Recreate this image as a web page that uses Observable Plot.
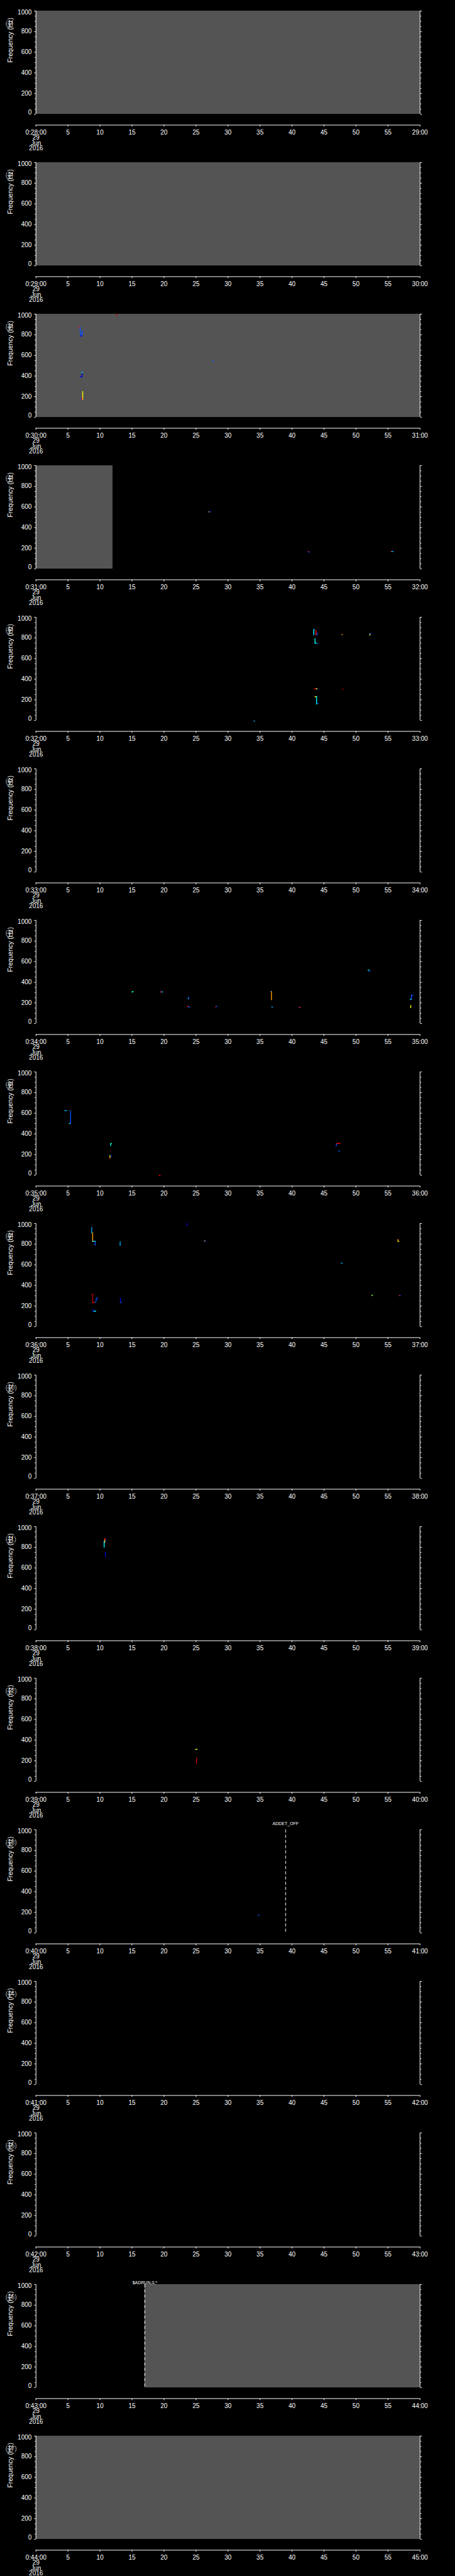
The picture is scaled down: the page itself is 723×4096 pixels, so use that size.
<!DOCTYPE html>
<html>
<head>
<meta charset="utf-8">
<script src="https://cdn.jsdelivr.net/npm/d3@7"></script>
<script src="https://cdn.jsdelivr.net/npm/@observablehq/plot@0.6"></script>
<style>
  html, body { margin: 0; padding: 0; background: #000; }
  #chart { position: relative; width: 723px; height: 4096px; background: #000; overflow: hidden; }
  #chart svg { position: absolute; left: 0; display: block; }
</style>
</head>
<body>
<div id="chart"></div>
<script>
// ---------------- DATA ----------------
// start minute (hour 0) of each one-minute panel
const panelStartMinute = [28, 29, 30, 31, 32, 33, 34, 35, 36, 37, 38, 39, 40, 41, 42, 43, 44];
const dateLines = ["29", "Jun", "2016"];
const timeDomain = [0, 60];                // seconds within the minute
const freqDomain = [0, 1000];              // Hz
const timeTicks = [0, 5, 10, 15, 20, 25, 30, 35, 40, 45, 50, 55, 60];
const freqMajorTicks = [0, 200, 400, 600, 800, 1000];
const freqMinorTicks = [50, 100, 150, 250, 300, 350, 450, 500, 550, 650, 700, 750, 850, 900, 950];

// intensity levels of the spectrogram and their colours
const levels = [1, 2, 3, 4, 5, 6, 7, 8, 9];
const palette = ["#0000d8", "#0050ff", "#00a8ff", "#00ffff", "#00ff70", "#ffff00", "#ffa000", "#ff0000", "#b40000"];

// grey "no data" bands: panel number, start second, end second
const shadePanel = [1, 2, 3, 4, 16, 17];
const shadeStart = [0, 0, 0, 0, 17, 0];
const shadeEnd   = [60, 60, 60, 12, 60, 60];

// event markers: panel, second, label
const eventPanel = [13, 16];
const eventTime  = [39.0, 17.0];
const eventLabel = ["ADDET_OFF", "$ADRUN,0,*"];

// spectrogram traces per panel: [t1 (s), f1 (Hz), t2 (s), f2 (Hz), level]
const signals3 = [
  [12.6, 985, 12.7, 1000, 9],
  [6.67, 871, 6.72, 871, 8],
  [6.9, 871, 6.95, 788, 2],
  [7.2, 790, 7.2, 830, 2], [7.2, 830, 7.35, 830, 2], [6.95, 788, 7.2, 790, 1],
  [27.6, 546, 27.7, 546, 2],
  [7.2, 391, 7.2, 434, 1], [7.15, 434, 7.25, 434, 4], [6.9, 394, 7.2, 394, 1],
  [7.3, 172, 7.3, 249, 6], [6.9, 180, 7.05, 180, 2], [7.1, 180, 7.25, 180, 8]
];
const signals4 = [
  [27.0, 553, 27.05, 553, 7], [27.1, 553, 27.25, 553, 2],
  [42.55, 170, 42.6, 170, 8], [42.6, 165, 42.7, 163, 2],
  [55.5, 169, 55.6, 169, 8], [55.6, 169, 55.8, 169, 3]
];
const signals5 = [
  [43.4, 830, 43.4, 881, 4], [43.4, 881, 43.5, 881, 3],
  [43.75, 830, 43.75, 873, 8], [43.9, 830, 43.95, 845, 2],
  [47.8, 833, 47.85, 833, 7],
  [52.15, 826, 52.2, 840, 6], [52.2, 840, 52.35, 840, 2],
  [43.6, 749, 43.6, 792, 4], [43.6, 749, 43.8, 749, 4], [44.0, 744, 44.05, 744, 2],
  [43.55, 307, 43.75, 307, 8], [43.8, 307, 43.9, 307, 6], [43.95, 302, 44.0, 302, 2],
  [47.9, 303, 47.95, 303, 8],
  [43.6, 231, 43.8, 231, 6], [43.85, 159, 43.85, 231, 4], [44.05, 165, 44.1, 165, 2],
  [34.05, -6, 34.15, -6, 3]
];
const signals7 = [
  [15.0, 307, 15.1, 307, 5], [15.1, 310, 15.15, 310, 4],
  [19.4, 307, 19.55, 307, 8], [19.6, 307, 19.8, 307, 3],
  [23.8, 240, 23.8, 250, 3], [23.85, 250, 23.9, 250, 2],
  [23.65, 166, 23.8, 166, 8], [23.85, 160, 24.0, 160, 2],
  [28.05, 163, 28.15, 166, 8], [28.15, 166, 28.25, 166, 2],
  [36.65, 311, 36.75, 311, 2], [36.8, 232, 36.8, 311, 7],
  [36.85, 160, 36.95, 160, 3],
  [41.1, 158, 41.2, 158, 2], [41.2, 158, 41.3, 158, 8],
  [51.9, 519, 52.0, 519, 5], [52.0, 511, 52.2, 511, 2],
  [58.65, 236, 58.65, 274, 2], [58.65, 274, 58.9, 274, 2], [58.5, 236, 58.6, 236, 4],
  [58.55, 155, 58.55, 175, 6]
];
const signals8 = [
  [4.5, 626, 4.8, 626, 3], [5.4, 500, 5.4, 626, 2], [5.2, 500, 5.3, 500, 4],
  [11.65, 287, 11.65, 306, 4], [11.7, 306, 11.8, 306, 5],
  [11.55, 166, 11.55, 189, 6], [11.5, 166, 11.55, 166, 8], [11.7, 180, 11.7, 189, 2],
  [19.25, -4, 19.4, -4, 8],
  [46.9, 283, 47.0, 307, 2], [47.0, 307, 47.5, 307, 8],
  [47.3, 233, 47.45, 236, 2]
];
const signals9 = [
  [8.7, 910, 8.7, 960, 3],
  [8.85, 828, 8.85, 910, 7],
  [8.9, 828, 9.25, 828, 4],
  [9.25, 791, 9.25, 824, 2],
  [13.15, 788, 13.15, 824, 3],
  [23.6, 983, 23.6, 1000, 1],
  [26.3, 831, 26.4, 831, 7], [26.4, 828, 26.5, 828, 2],
  [47.7, 616, 47.85, 616, 3],
  [56.55, 828, 56.55, 845, 7], [56.6, 828, 56.7, 828, 6],
  [8.85, 236, 8.85, 312, 9], [8.7, 312, 8.9, 312, 9], [8.9, 236, 9.1, 236, 8],
  [9.3, 236, 9.5, 279, 2], [9.5, 279, 9.6, 279, 2],
  [13.2, 236, 13.2, 276, 1], [13.2, 236, 13.35, 236, 2],
  [8.85, 155, 9.3, 152, 2], [8.85, 165, 8.85, 155, 1], [9.1, 150, 9.3, 150, 4],
  [52.45, 303, 52.5, 303, 7], [52.55, 306, 52.6, 306, 5],
  [56.75, 302, 56.85, 302, 8], [56.85, 302, 56.9, 302, 2]
];
const signals11 = [
  [10.65, 802, 10.65, 858, 4],
  [10.75, 849, 10.75, 881, 7], [10.75, 881, 10.85, 881, 8],
  [10.85, 711, 10.85, 749, 1],
  [10.9, 862, 10.95, 862, 2]
];
const signals12 = [
  [24.95, 311, 25.0, 311, 5], [25.0, 311, 25.15, 311, 6],
  [25.1, 170, 25.1, 230, 9]
];
const signals13 = [
  [34.75, 168, 34.85, 175, 2]
];
const signalsByPanel = {3: signals3, 4: signals4, 5: signals5, 7: signals7, 8: signals8,
                        9: signals9, 11: signals11, 12: signals12, 13: signals13};

// ---------------- LAYOUT ----------------
const S = 723 / 1024;                       // reference -> window scale
const W = 723;
const panelH = 5802 / 17 * S;
const mL = 80.3 * S, mR = (1024 - 944.5) * S, mT = 24 * S;
const plotH = (256.5 - 24) * S;
const mB = panelH - mT - plotH;
const FONT = "'Liberation Sans', Arial, 'DejaVu Sans', sans-serif";
const eventLabelLift = {"ADDET_OFF": 17.5 * S, "$ADRUN,0,*": 8 * S};

const chart = document.getElementById("chart");

panelStartMinute.forEach((m, k) => {
  const panel = k + 1;
  const bands = shadePanel.map((p, i) => ({p, start: shadeStart[i], end: shadeEnd[i]})).filter(d => d.p === panel);
  const events = eventPanel.map((p, i) => ({p, t: eventTime[i], label: eventLabel[i]})).filter(d => d.p === panel);
  const segs = signalsByPanel[panel] || [];
  const fmt = d => d === timeDomain[0] ? [`0:${m}:00`, ...dateLines].join("\n")
                 : d === timeDomain[1] ? `${m + 1}:00` : String(d);

  const yLabelCommon = {anchor: "left", tickSize: 0, tickPadding: 6.9, label: null, fontSize: 10,
                        fill: "white", tickFormat: d => String(d)};

  const svg = Plot.plot({
    width: W,
    height: panelH,
    marginLeft: mL, marginRight: mR, marginTop: mT, marginBottom: mB,
    style: {background: "#000", color: "white", fontFamily: FONT, fontSize: "10px", overflow: "visible"},
    x: {domain: timeDomain, label: null},
    y: {domain: freqDomain, label: null},
    color: {type: "ordinal", domain: levels, range: palette},
    marks: [
      Plot.rect(bands, {x1: "start", x2: "end", fill: "#545454"}),
      Plot.ruleX(events, {x: "t", stroke: "white", strokeWidth: 1, strokeDasharray: "5,3.3"}),
      Plot.text(events, {x: "t", text: "label", frameAnchor: "top", fill: "white", fontSize: 7}),
      Plot.link(segs, {x1: d => d[0], y1: d => d[1], x2: d => d[2], y2: d => d[3], stroke: d => d[4],
                       strokeWidth: 1.4, strokeLinecap: "square"}),
      // left & right vertical axis lines
      Plot.ruleX(timeDomain, {stroke: "white", strokeWidth: 1}),
      // y ticks left
      Plot.axisY(freqMajorTicks, {anchor: "left", tickSize: 2.5, tickFormat: () => "", label: null, stroke: "white"}),
      Plot.axisY(freqMinorTicks, {anchor: "left", tickSize: 1.6, tickFormat: () => "", label: null, stroke: "white"}),
      // y ticks right
      Plot.axisY(freqMajorTicks, {anchor: "right", tickSize: 2.5, tickFormat: () => "", label: null, stroke: "white"}),
      Plot.axisY(freqMinorTicks, {anchor: "right", tickSize: 1.6, tickFormat: () => "", label: null, stroke: "white"}),
      // y tick labels (ends kept inside the axis range)
      Plot.axisY(freqMajorTicks.slice(1, -1), yLabelCommon),
      Plot.axisY(freqMajorTicks.slice(-1), {...yLabelCommon, dy: 2.7}),
      Plot.axisY(freqMajorTicks.slice(0, 1), {...yLabelCommon, dy: -2.7}),
      // detached time axis
      Plot.ruleY(freqDomain.slice(0, 1), {dy: 24.5 * S, stroke: "white", strokeWidth: 1}),
      Plot.axisX(timeTicks, {anchor: "bottom", dy: 24.5 * S, tickSize: 2.8, tickPadding: 5.9,
                             tickFormat: fmt, lineHeight: 0.86, label: null, fontSize: 10,
                             stroke: "white", fill: "white"}),
      // panel number
      Plot.text([`(${panel})`], {frameAnchor: "top-left", dx: -48.4, dy: 16.6, textAnchor: "start",
                                 fill: "#b4b4b4", fontSize: 10}),
      // y title
      Plot.text(["Frequency (Hz)"], {frameAnchor: "left", rotate: -90, dx: -40.8, fill: "white", fontSize: 10.4})
    ]
  });
  // lift event labels above the frame
  svg.querySelectorAll("text").forEach(t => {
    const lift = eventLabelLift[t.textContent];
    if (lift !== undefined) {
      const tr = t.getAttribute("transform") || "";
      t.setAttribute("transform", tr + ` translate(0,${-lift})`);
    }
  });
  svg.style.top = (k * panelH) + "px";
  chart.appendChild(svg);
});
</script>
</body>
</html>
